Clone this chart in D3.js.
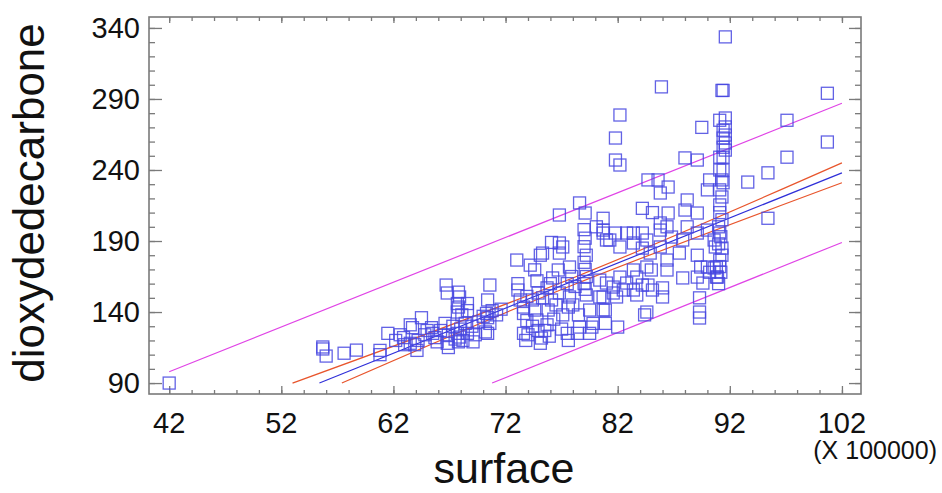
<!DOCTYPE html>
<html>
<head>
<meta charset="utf-8">
<script src="https://cdn.jsdelivr.net/npm/d3@7"></script>
<style>
body { margin: 0; background: #fff; }
text { font-family: "Liberation Sans", Arial, sans-serif; fill: #111; }
</style>
</head>
<body>
<div id="chart"></div>
<script>
// observations (surface in units of 100000)
var surfaceX = [42,
    55.7,55.7,56.0,57.6,58.7,60.8,60.8,61.5,62.6,62.9,63.5,63.7,64.5,63.5,63.9,64.1,65.4,65.5,65.7,65.9,
    66.6,66.8,66.9,66.7,66.8,67.8,67.9,67.7,67.8,67.7,68.6,68.6,68.1,67.7,67.9,67.8,68.2,68.6,69.1,69.3,
    70.6,70.4,70.3,70.4,70.6,70.4,70.2,73.0,73.1,73.1,73.3,73.6,73.6,73.9,73.6,73.8,
    74.2,74.6,75.1,75.3,76.1,76.8,76.8,77.1,77.7,76.7,76.2,75.7,74.9,74.4,74.6,74.8,74.9,75.2,75.1,75.7,
    75.8,76.1,76.8,77.5,77.7,77.6,77.1,77.5,77.6,76.8,78.6,79.1,
    79.0,79.1,79.0,79.2,79.0,79.1,79.2,79.0,79.1,79.2,80.1,80.7,81.0,79.5,79.7,79.5,78.6,78.4,80.4,80.7,79.8,
    85.9,91.3,82.2,81.8,81.8,82.2,89.5,91.1,91.4,91.4,91.4,88.0,89.1,91.1,84.7,85.6,86.5,85.8,
    90.2,90.0,91.1,91.3,91.1,
    84.2,85.1,86.5,85.8,88.2,88.0,89.1,91.3,91.1,
    80.7,80.7,81.8,82.8,83.4,84.2,84.6,85.8,86.4,86.8,87.8,88.2,89.1,90.0,90.6,91.1,91.3,91.1,
    81.3,82.2,83.4,84.2,84.9,85.8,86.4,87.5,89.1,89.4,90.0,90.6,89.1,89.6,90.2,90.8,87.8,86.4,84.6,85.0,
    83.4,83.7,82.8,82.2,80.4,81.0,81.6,81.6,80.7,81.9,82.5,83.4,83.7,84.2,84.7,85.1,86.0,86.0,
    89.3,89.3,84.6,84.4,80.9,80.9,82.0,89.3,90.7,90.8,90.9,
    91.6,91.4,100.7,97.1,100.7,91.6,91.6,91.6,91.6,91.6,97.1,95.4,93.6,91.4,91.4,91.4,95.4,
    91.0,91.2,91.0,91.3,91.1,91.2,91.0,91.3,91.1,
    66.2,66.9,67.3,67.5,68.0,68.4,69.0,69.6,70.0,70.8,71.2,71.6,62.2,63.0,64.8,65.0,64.2,
    74.0,74.4,75.5,75.9,76.3,76.5,77.0,75.3,76.0,74.8,73.9,77.9,78.2,78.0,78.5];

var co2Y = [90,
    115.4,114,109,111,113.2,113,110,125,124,122,131,129,136,118,117,113,129,125,122,119,
    132,118,115,159,153.4,154,150.6,146,143.5,140,146,141,138,125,122.4,119,120,125,119,124,
    159,148.5,139,136,132,125,126,176.6,160,155.5,148.5,143.5,139,134,125,120,
    173,169.7,180,181.5,189,188.6,181.5,185.8,171.7,169.6,164,157,153.4,148.5,141.4,134.4,127,121.7,118,131,
    141.4,148.5,153.4,160,150.6,143.5,138,125,120,208.3,216.8,209.7,
    198,192,186,180,175,170,165,160,156,152,200,195.6,190.7,141.4,129.4,125,129.4,125,150.6,141.4,132,
    298.5,296,278.7,262.5,247,243.5,270,275,268,262.5,256,248.5,247,249,233,233,228,223.8,
    233,226,240,233,226,
    213,210,209.7,202.7,218.9,211.8,209.7,221,215.4,
    206,197.7,195.6,195.6,195.6,195.6,190.7,197.7,200,192.8,190.7,200,195.6,197.7,190.7,195.6,185,176.6,
    190.7,185.8,188.6,185,181.5,185.8,176.6,181.5,180,171.7,171.7,171,164.6,160.4,168,164.6,164,169.6,171.7,169.6,
    169.6,164.6,160.4,164.6,162.5,160.4,157.6,153.4,150.6,150.6,155.5,155.5,152,159,159,155.5,157,150.6,
    150,140,140,138,141.4,132,129.4,135.8,185.8,171.7,164.6,
    333.7,296,294,275,259.7,276.6,270.3,264.6,259,254,249,238,231.5,249,240,231,206,
    200,193,188,180,172,168,160,205,210,
    127,124,130,121,128,132,130,133,137,141,138,142,120,117,124,127,120,
    124,130,127,123,135,145,128,150,160,162,151,165,158,145,138];

// fitted model, confidence limits and prediction limits
var fitX = [55.4, 102];
var fitY = [90, 238];
var confUpperX = [53.0, 78, 102];
var confUpperY = [90, 164, 245];
var confLowerX = [57.4, 78, 102];
var confLowerY = [90, 159, 231];
var predUpperX = [42, 102];
var predUpperY = [98, 287];
var predLowerX = [70.8, 102];
var predLowerY = [90, 189];

var xTicks = [42, 52, 62, 72, 82, 92, 102];
var yTicks = [90, 140, 190, 240, 290, 340];

var width = 942, height = 493;
var plotL = 149, plotR = 861, plotT = 17, plotB = 394;

var svg = d3.select("#chart")
    .append("svg")
    .attr("width", width)
    .attr("height", height)

var x = d3.scaleLinear().domain([40.2, 103.7]).range([plotL, plotR]);
var y = d3.scaleLinear().domain([82.3, 347.7]).range([plotB, plotT]);

var minorX = d3.range(42, 103, 2);
var minorY = d3.range(90, 341, 10);
var tickColor = "#7a7a7a";

function drawAxis(axis, tx, ty) {
    var g = svg.append("g")
        .attr("transform", "translate(" + tx + "," + ty + ")")
        .call(axis);
    g.select(".domain").remove();
    g.selectAll("line").attr("stroke", tickColor).attr("stroke-width", 1.3);
    g.selectAll("text").remove();
}

// inward ticks on all four sides
drawAxis(d3.axisBottom(x).tickValues(minorX).tickSize(-4), 0, plotB);
drawAxis(d3.axisBottom(x).tickValues(xTicks).tickSize(-8), 0, plotB);
drawAxis(d3.axisTop(x).tickValues(minorX).tickSize(-4), 0, plotT);
drawAxis(d3.axisTop(x).tickValues(xTicks).tickSize(-6), 0, plotT);
drawAxis(d3.axisLeft(y).tickValues(minorY).tickSize(-6), plotL, 0);
drawAxis(d3.axisLeft(y).tickValues(yTicks).tickSize(-13), plotL, 0);
drawAxis(d3.axisRight(y).tickValues(minorY).tickSize(-6), plotR, 0);
drawAxis(d3.axisRight(y).tickValues(yTicks).tickSize(-12), plotR, 0);

svg.append("rect")
    .attr("x", plotL)
    .attr("y", plotT)
    .attr("width", plotR - plotL)
    .attr("height", plotB - plotT)
    .attr("fill", "none")
    .attr("stroke", tickColor)
    .attr("stroke-width", 1.6)

// tick labels
svg.selectAll(".xlab").data(xTicks).enter().append("text")
    .attr("class", "xlab")
    .attr("x", function(d){ return x(d); })
    .attr("y", 433)
    .attr("text-anchor", "middle")
    .attr("font-size", 29)
    .text(function(d){ return d; })

svg.selectAll(".ylab").data(yTicks).enter().append("text")
    .attr("class", "ylab")
    .attr("x", 140)
    .attr("y", function(d){ return y(d) + 10; })
    .attr("text-anchor", "end")
    .attr("font-size", 29)
    .text(function(d){ return d; })

svg.append("text")
    .attr("x", 937)
    .attr("y", 459)
    .attr("text-anchor", "end")
    .attr("font-size", 25)
    .text("(X 100000)")

svg.append("text")
    .attr("x", 504)
    .attr("y", 483)
    .attr("text-anchor", "middle")
    .attr("font-size", 43)
    .text("surface")

svg.append("text")
    .attr("transform", "translate(44,203) rotate(-90)")
    .attr("text-anchor", "middle")
    .attr("font-size", 44)
    .text("dioxydedecarbone")

// lines
var line = d3.line()
    .x(function(d){ return x(d[0]); })
    .y(function(d){ return y(d[1]); })
var curved = d3.line()
    .curve(d3.curveNatural)
    .x(function(d){ return x(d[0]); })
    .y(function(d){ return y(d[1]); })

var plot = svg.append("g")

plot.append("path").datum(d3.zip(predUpperX, predUpperY))
    .attr("d", line).attr("fill", "none").attr("stroke", "#e044e6").attr("stroke-width", 1.2)
plot.append("path").datum(d3.zip(predLowerX, predLowerY))
    .attr("d", line).attr("fill", "none").attr("stroke", "#e044e6").attr("stroke-width", 1.2)
plot.append("path").datum(d3.zip(confUpperX, confUpperY))
    .attr("d", curved).attr("fill", "none").attr("stroke", "#e8552c").attr("stroke-width", 1.2)
plot.append("path").datum(d3.zip(confLowerX, confLowerY))
    .attr("d", curved).attr("fill", "none").attr("stroke", "#e8552c").attr("stroke-width", 1.2)
plot.append("path").datum(d3.zip(fitX, fitY))
    .attr("d", line).attr("fill", "none").attr("stroke", "#2f2fd8").attr("stroke-width", 1.2)

// points
var sq = 12;
plot.selectAll(".pt").data(d3.zip(surfaceX, co2Y)).enter().append("rect")
    .attr("class", "pt")
    .attr("x", function(d){ return x(d[0]) - sq / 2; })
    .attr("y", function(d){ return y(d[1]) - sq / 2; })
    .attr("width", sq)
    .attr("height", sq)
    .attr("fill", "none")
    .attr("stroke", "#4646e0")
    .attr("stroke-opacity", 0.85)
    .attr("stroke-width", 1.3)
</script>
</body>
</html>
